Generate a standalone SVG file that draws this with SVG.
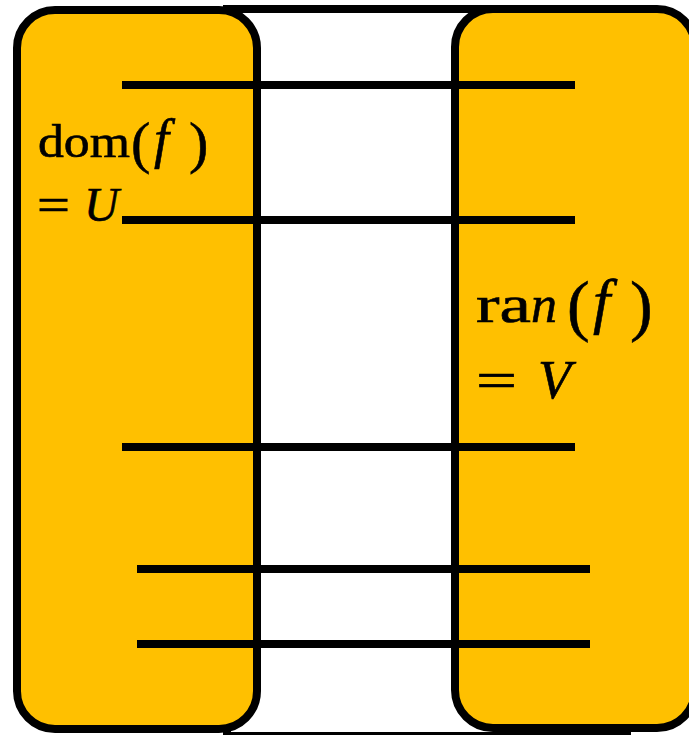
<svg xmlns="http://www.w3.org/2000/svg" width="689" height="735" viewBox="0 0 689 735">
<style>
.frame{fill:#ffffff;stroke:#000;stroke-width:8}
.set{fill:#FFC000;stroke:#000;stroke-width:8}
.conn{stroke:#000;stroke-width:8;fill:none}
.t{font-family:"Liberation Serif","Times New Roman",serif;fill:#000;stroke:#000;stroke-width:0.6}
.i{font-style:italic}
</style>
<g id="frame"><rect class="frame" x="227" y="9" width="400" height="727"/></g>
<g id="domain">
<rect class="set" x="17" y="10" width="240" height="719" rx="38" ry="38"/>
<text class="t" font-size="46" x="38" y="157" textLength="92" lengthAdjust="spacingAndGlyphs">dom</text>
<text class="t" font-size="58" x="131" y="162">(</text>
<text class="t i" font-size="54" x="154" y="157">f</text>
<text class="t" font-size="58" x="189" y="162">)</text>
<text class="t" font-size="46" x="37" y="220" textLength="33" lengthAdjust="spacingAndGlyphs">=</text>
<text class="t i" font-size="48" x="84" y="221">U</text>
</g>
<g id="range">
<rect class="set" x="455" y="9" width="240" height="719" rx="38" ry="38"/>
<text class="t" font-size="52" x="476" y="322" textLength="55" lengthAdjust="spacingAndGlyphs">ra</text>
<text class="t i" font-size="52" x="531" y="322">n</text>
<text class="t" font-size="68" x="567" y="328">(</text>
<text class="t i" font-size="62" x="593" y="322">f</text>
<text class="t" font-size="68" x="630" y="328">)</text>
<text class="t" font-size="52" x="476" y="398" textLength="41" lengthAdjust="spacingAndGlyphs">=</text>
<text class="t i" font-size="54" x="538" y="398">V</text>
</g>
<g id="connectors">
<line class="conn" x1="122" y1="85" x2="575" y2="85"/>
<line class="conn" x1="122" y1="220" x2="575" y2="220"/>
<line class="conn" x1="122" y1="447" x2="575" y2="447"/>
<line class="conn" x1="137" y1="569" x2="590" y2="569"/>
<line class="conn" x1="137" y1="644" x2="590" y2="644"/>
</g>
</svg>
